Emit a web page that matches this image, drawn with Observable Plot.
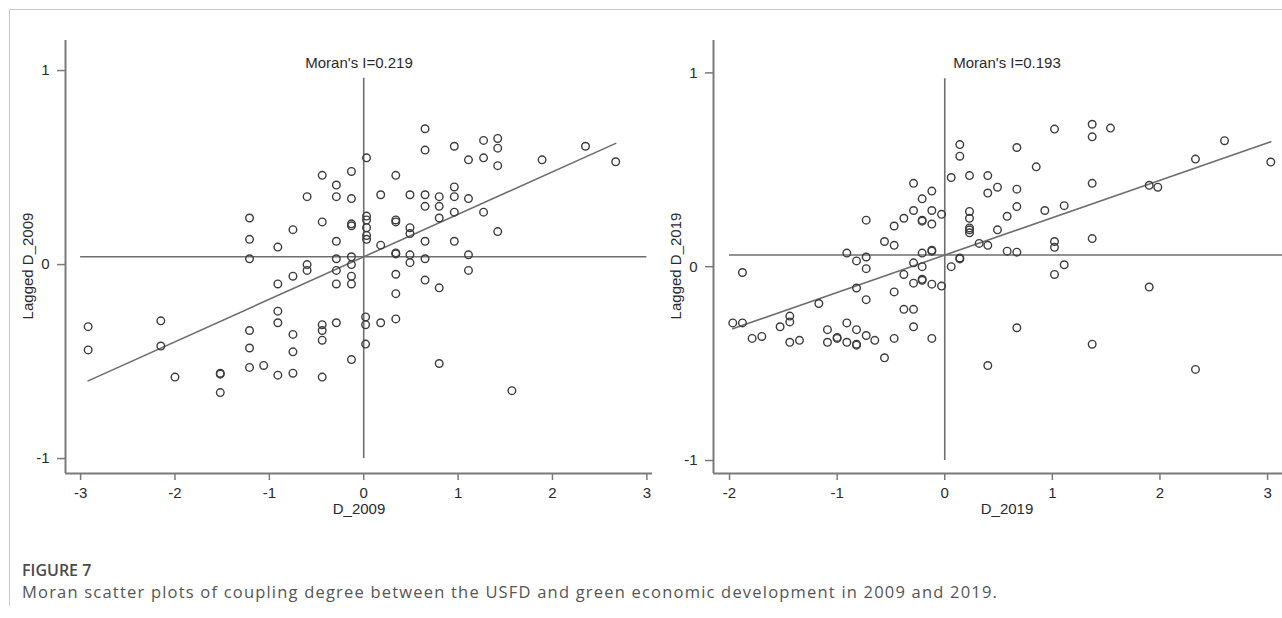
<!DOCTYPE html>
<html>
<head>
<meta charset="utf-8">
<script src="https://cdn.jsdelivr.net/npm/d3@7"></script>
<script src="https://cdn.jsdelivr.net/npm/@observablehq/plot@0.6"></script>
<style>
  html, body { margin: 0; padding: 0; background: #fff; overflow: hidden; width: 1282px; height: 618px; }
  #border { position: absolute; left: 9px; top: 9px; width: 1290px; height: 596px; border-left: 1px solid #c8c8c8; border-top: 1px solid #c8c8c8; }
  #left { position: absolute; left: 0; top: 0; width: 660px; height: 530px; overflow: hidden; }
  #right { position: absolute; left: 660px; top: 0; width: 622px; height: 530px; overflow: hidden; }
  #figlabel { position: absolute; left: 22px; top: 559px; font-family: "Open Sans", sans-serif; font-weight: 600; font-size: 16px; color: #4a4a4a; }
  #figcap { position: absolute; left: 22px; top: 580px; font-family: "Open Sans", sans-serif; font-size: 16.5px; letter-spacing: 1.2px; color: #555; white-space: nowrap; }
  svg { max-width: none !important; }
</style>
</head>
<body>
<div id="border"></div>
<div id="left"></div>
<div id="right"></div>
<div id="figlabel">FIGURE 7</div>
<div id="figcap">Moran scatter plots of coupling degree between the USFD and green economic development in 2009 and 2019.</div>
<script>
// ---- 2009 panel ----
const x2009 = [-2.92,-2.92,-2.15,-2.15,-2.00,-1.52,-1.52,-1.52,-1.21,-1.21,-1.21,-1.21,-1.21,-1.21,-1.06,-0.91,-0.91,-0.91,-0.91,-0.91,-0.75,-0.75,-0.75,-0.75,-0.75,-0.60,-0.60,-0.60,-0.44,-0.44,-0.44,-0.44,-0.44,-0.44,-0.29,-0.29,-0.29,-0.29,-0.29,-0.29,-0.29,-0.13,-0.13,-0.13,-0.13,-0.13,-0.13,-0.13,-0.13,-0.13,0.03,0.03,0.03,0.03,0.03,0.03,0.02,0.02,0.02,0.18,0.18,0.18,0.34,0.34,0.34,0.34,0.34,0.34,0.34,0.34,0.49,0.49,0.49,0.49,0.49,0.65,0.65,0.65,0.65,0.65,0.65,0.65,0.80,0.80,0.80,0.80,0.80,0.96,0.96,0.96,0.96,0.96,1.11,1.11,1.11,1.11,1.27,1.27,1.27,1.42,1.42,1.42,1.42,1.57,1.89,2.35,2.67];
const lag2009 = [-0.32,-0.44,-0.29,-0.42,-0.58,-0.56,-0.565,-0.66,0.24,0.13,0.03,-0.34,-0.43,-0.53,-0.52,0.09,-0.10,-0.24,-0.30,-0.57,0.18,-0.06,-0.36,-0.45,-0.56,0.35,0.00,-0.03,0.46,0.22,-0.31,-0.34,-0.39,-0.58,0.41,0.35,0.12,0.03,-0.03,-0.10,-0.30,0.48,0.34,0.21,0.20,0.04,0.00,-0.06,-0.10,-0.49,0.55,0.25,0.23,0.19,0.15,0.13,-0.27,-0.31,-0.41,0.36,0.10,-0.30,0.46,0.23,0.22,0.06,0.055,-0.05,-0.15,-0.28,0.36,0.19,0.16,0.05,0.01,0.70,0.59,0.36,0.30,0.12,0.03,-0.08,0.35,0.30,0.24,-0.12,-0.51,0.61,0.40,0.35,0.27,0.12,0.54,0.34,0.05,-0.03,0.64,0.55,0.27,0.65,0.60,0.51,0.17,-0.65,0.54,0.61,0.53];
const moran2009 = 0.219;
const meanLag2009 = 0.04;

// ---- 2019 panel ----
const x2019 = [-1.97,-1.88,-1.88,-1.79,-1.70,-1.53,-1.44,-1.44,-1.44,-1.35,-1.17,-1.09,-1.09,-1.00,-1.00,-0.91,-0.91,-0.91,-0.82,-0.82,-0.82,-0.82,-0.82,-0.73,-0.73,-0.73,-0.73,-0.73,-0.65,-0.56,-0.56,-0.47,-0.47,-0.47,-0.47,-0.38,-0.38,-0.38,-0.29,-0.29,-0.29,-0.29,-0.29,-0.29,-0.21,-0.21,-0.21,-0.21,-0.21,-0.21,-0.21,-0.12,-0.12,-0.12,-0.12,-0.12,-0.12,-0.12,-0.03,-0.03,0.06,0.06,0.14,0.14,0.14,0.14,0.23,0.23,0.23,0.23,0.23,0.23,0.32,0.40,0.40,0.40,0.40,0.49,0.49,0.58,0.58,0.67,0.67,0.67,0.67,0.67,0.85,0.93,1.02,1.02,1.02,1.02,1.11,1.11,1.37,1.37,1.37,1.37,1.37,1.54,1.90,1.90,1.98,2.33,2.33,2.60,3.03];
const lag2019 = [-0.29,-0.29,-0.03,-0.37,-0.36,-0.31,-0.255,-0.285,-0.39,-0.38,-0.19,-0.325,-0.39,-0.365,-0.37,0.07,-0.29,-0.39,0.03,-0.11,-0.325,-0.40,-0.405,0.24,0.05,-0.01,-0.17,-0.355,-0.38,0.13,-0.47,0.21,0.11,-0.13,-0.37,0.25,-0.04,-0.22,0.43,0.29,0.02,-0.085,-0.22,-0.31,0.35,0.24,0.235,0.07,0.0,-0.065,-0.07,0.39,0.29,0.22,0.085,0.08,-0.09,-0.37,0.27,-0.10,0.46,0.0,0.63,0.57,0.045,0.04,0.47,0.285,0.25,0.20,0.19,0.175,0.12,0.47,0.38,0.11,-0.51,0.41,0.19,0.26,0.08,0.615,0.40,0.31,0.075,-0.315,0.515,0.29,0.71,0.13,0.10,-0.04,0.315,0.01,0.735,0.67,0.43,0.145,-0.40,0.715,0.42,-0.105,0.41,0.555,-0.53,0.65,0.54];
const moran2019 = 0.193;
const meanLag2019 = 0.06;

// ---- ticks ----
const xTicks2009 = [-3, -2, -1, 0, 1, 2, 3];
const xTicks2019 = [-2, -1, 0, 1, 2, 3];
const yTicks = [-1, 0, 1];

const FONT = "'Liberation Sans', Arial, Helvetica, sans-serif";
const TXT = "#2a2a2a";
const AX = "#7a7a7a";
const REF = "#6e6e6e";

function panel({xs, lags, moran, meanLag, xTicks, xDomain, yDomain, width, marginLeft, marginRight, hLine, vLine, xLabel, yLabel}) {
  const pts = xs.map((x, i) => ({x, y: lags[i]}));
  const ext = d3.extent(xs);
  const fit = ext.map(x => ({x, y: meanLag + moran * x}));
  return Plot.plot({
    width, height: 530,
    marginLeft, marginRight, marginTop: 40, marginBottom: 57,
    x: {domain: xDomain},
    y: {domain: yDomain},
    style: {background: "transparent", fontFamily: FONT, fontSize: "15px", color: TXT, overflow: "visible"},
    marks: [
      // axis frame lines (left & bottom)
      Plot.ruleY([yDomain[0]], {stroke: AX, strokeWidth: 2}),
      Plot.ruleX([xDomain[0]], {stroke: AX, strokeWidth: 2}),
      Plot.axisX({ticks: xTicks, tickSize: 7, tickPadding: 7, tickFormat: d => String(d), label: null, stroke: AX, strokeWidth: 1.5, fill: TXT, fontSize: 15}),
      Plot.axisY({ticks: yTicks, tickSize: 8, tickPadding: 8, tickFormat: d => String(d), label: null, stroke: AX, strokeWidth: 1.5, fill: TXT, fontSize: 15}),
      // reference lines
      Plot.ruleY([meanLag], {x1: hLine[0], x2: hLine[1], stroke: REF, strokeWidth: 1.6}),
      Plot.ruleX([0], {y1: vLine[0], y2: vLine[1], stroke: REF, strokeWidth: 1.6}),
      // fitted line
      Plot.line(fit, {x: "x", y: "y", stroke: REF, strokeWidth: 1.6}),
      // points
      Plot.dot(pts, {x: "x", y: "y", r: 3.8, stroke: "#3c3c3c", strokeWidth: 1.4, fill: "none"}),
      // titles
      Plot.text([`Moran's I=${moran}`], {frameAnchor: "top", dy: 17, fill: TXT, fontSize: 15}),
      Plot.text([xLabel], {frameAnchor: "bottom", dy: 40, fill: TXT, fontSize: 15}),
      Plot.text([yLabel], {frameAnchor: "left", textAnchor: "middle", dx: -37, dy: 9, rotate: -90, fill: TXT, fontSize: 15})
    ]
  });
}

document.getElementById("left").append(panel({
  xs: x2009, lags: lag2009, moran: moran2009, meanLag: meanLag2009,
  xTicks: xTicks2009, xDomain: [-3.16, 3.06], yDomain: [-1.077, 1.155],
  width: 670, marginLeft: 65, marginRight: 18,
  hLine: [-3, 3], vLine: [-1, 0.96],
  xLabel: "D_2009", yLabel: "Lagged D_2009"
}));

document.getElementById("right").append(panel({
  xs: x2019, lags: lag2019, moran: moran2019, meanLag: meanLag2019,
  xTicks: xTicks2019, xDomain: [-2.149, 3.306], yDomain: [-1.067, 1.167],
  width: 650, marginLeft: 53, marginRight: 10,
  hLine: [-2, 3.306], vLine: [-1, 0.97],
  xLabel: "D_2019", yLabel: "Lagged D_2019"
}));
</script>
</body>
</html>
